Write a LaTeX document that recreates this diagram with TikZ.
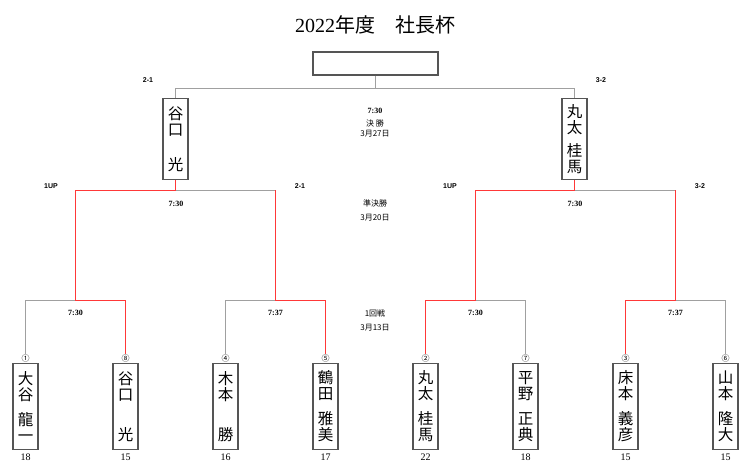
\documentclass[tikz,border=0pt]{standalone}
\usepackage{fontspec}
\setmainfont{Liberation Serif}
\newfontfamily\cjk{Noto Sans CJK JP}
\newfontfamily\labfont{Liberation Sans}
\definecolor{winred}{HTML}{FF3838}
\definecolor{lgray}{HTML}{A0A0A0}
\definecolor{bdark}{HTML}{555555}
\begin{document}
\begin{tikzpicture}[x=1pt,y=-1pt,
  gl/.style={draw=lgray,line width=1pt},
  rl/.style={draw=winred,line width=1.2pt},
  namebox/.style={draw=bdark,line width=1.1pt,minimum width=25pt,inner sep=0pt,
    font=\cjk\fontsize{15.5}{16}\selectfont,align=center},
  leaf/.style={namebox,minimum height=86pt},
  fin/.style={namebox,minimum height=81pt},
  seed/.style={font=\cjk\fontsize{8}{8}\selectfont,inner sep=0.5pt},
  score/.style={font=\fontsize{10}{10}\selectfont,inner sep=0pt},
  res/.style={font=\labfont\bfseries\fontsize{7}{7}\selectfont,inner sep=0pt},
  tm/.style={font=\bfseries\fontsize{8}{8}\selectfont,inner sep=0pt},
  info/.style={font=\cjk\fontsize{8}{8}\selectfont,inner sep=0pt}]
\useasboundingbox (0,0) rectangle (750,473);

% title
\node (title) at (375,25) {\fontsize{20}{20}\selectfont 2022{\cjk 年度　社長杯}};

% winner box
\node[draw=bdark,line width=1.1pt,minimum width=125pt,minimum height=23pt,inner sep=0pt] (W) at (375.5,63.5) {};

% finalists
\node[fin] (F1) at (175.5,139) {谷\\口\\[19pt]光};
\node[fin] (F2) at (574.5,139) {丸\\太\\[7pt]桂\\馬};

% leaves
\node[leaf] (L1) at (25.5,406.5) {大\\谷\\[9pt]龍\\一};
\node[leaf] (L2) at (125.5,406.5) {谷\\口\\[24pt]光};
\node[leaf] (L3) at (225.5,406.5) {木\\本\\[24pt]勝};
\node[leaf] (L4) at (325.5,406.5) {鶴\\田\\[9pt]雅\\美};
\node[leaf] (L5) at (425.5,406.5) {丸\\太\\[9pt]桂\\馬};
\node[leaf] (L6) at (525.5,406.5) {平\\野\\[9pt]正\\典};
\node[leaf] (L7) at (625.5,406.5) {床\\本\\[9pt]義\\彦};
\node[leaf] (L8) at (725.5,406.5) {山\\本\\[9pt]隆\\大};

% seeds
\node[seed,anchor=south] (p1) at (L1.north) {①};
\node[seed,anchor=south] (p2) at (L2.north) {⑧};
\node[seed,anchor=south] (p3) at (L3.north) {④};
\node[seed,anchor=south] (p4) at (L4.north) {⑤};
\node[seed,anchor=south] (p5) at (L5.north) {②};
\node[seed,anchor=south] (p6) at (L6.north) {⑦};
\node[seed,anchor=south] (p7) at (L7.north) {③};
\node[seed,anchor=south] (p8) at (L8.north) {⑥};

% scores
\node[score] (q1) at (25.5,457) {18};
\node[score] (q2) at (125.5,457) {15};
\node[score] (q3) at (225.5,457) {16};
\node[score] (q4) at (325.5,457) {17};
\node[score] (q5) at (425.5,457) {22};
\node[score] (q6) at (525.5,457) {18};
\node[score] (q7) at (625.5,457) {15};
\node[score] (q8) at (725.5,457) {15};

% joints
\coordinate (m1) at (75.5,300.5);
\coordinate (m2) at (275.5,300.5);
\coordinate (m3) at (475.5,300.5);
\coordinate (m4) at (675.5,300.5);
\coordinate (j1) at (75.5,190.5);
\coordinate (j2) at (275.5,190.5);
\coordinate (j3) at (475.5,190.5);
\coordinate (j4) at (675.5,190.5);
\coordinate (fm) at (375.5,88.5);

% gray lines
\draw[gl] (W.south) -- (fm);
\draw[gl] (F1.north) |- (fm) -| (F2.north);
\draw[gl] (p1.north) |- (m1);
\draw[gl] (p3.north) |- (m2);
\draw[gl] (p6.north) |- (m3);
\draw[gl] (p8.north) |- (m4);
\draw[gl] (F1.south |- j1) -- (j2);
\draw[gl] (F2.south |- j3) -- (j4);

% red lines
\draw[rl] (p2.north) |- (m1) -- (j1) -| (F1.south);
\draw[rl] (p4.north) |- (m2) -- (j2);
\draw[rl] (p5.north) |- (m3) -- (j3) -| (F2.south);
\draw[rl] (p7.north) |- (m4) -- (j4);

% results
\node[res] (r1) at (148,80) {2-1};
\node[res] (r2) at (601,80) {3-2};
\node[res] (r3) at (51,186) {1UP};
\node[res] (r4) at (300,186) {2-1};
\node[res] (r5) at (450,186) {1UP};
\node[res] (r6) at (700,186) {3-2};

% times
\node[tm] (t1) at (176,204) {7:30};
\node[tm] (t2) at (575,204) {7:30};
\node[tm] (t3) at (75.5,313) {7:30};
\node[tm] (t4) at (275.5,313) {7:37};
\node[tm] (t5) at (475.5,313) {7:30};
\node[tm] (t6) at (675.5,313) {7:37};

% round info
\node[tm] (i1) at (375,111) {7:30};
\node[info] (i2) at (375,123.5) {決 勝};
\node[info] (i3) at (375,134) {3月27日};
\node[info] (i4) at (375,203) {準決勝};
\node[info] (i5) at (375,218) {3月20日};
\node[info] (i6) at (375,313) {1回戦};
\node[info] (i7) at (375,328) {3月13日};
\end{tikzpicture}
\end{document}
